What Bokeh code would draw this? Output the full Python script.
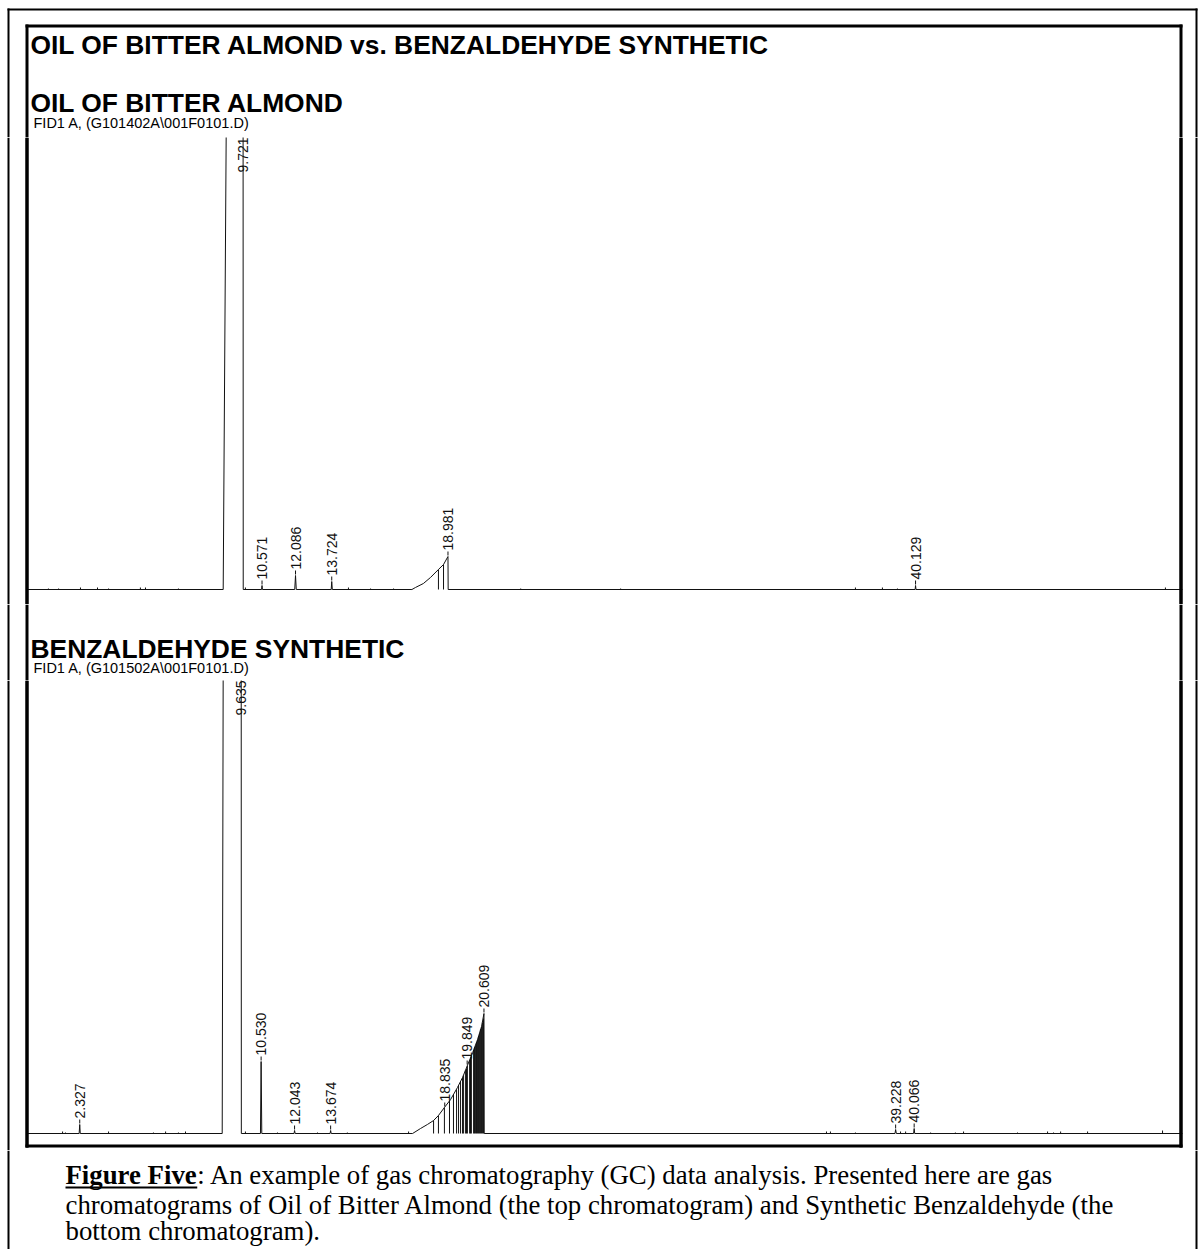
import numpy as np
from bokeh.plotting import figure
from bokeh.layouts import column
from bokeh.models import Range1d
from bokeh.core.properties import value
from bokeh.embed import file_html
from bokeh.resources import INLINE

# ---------------- data ----------------
main_title = "OIL OF BITTER ALMOND vs. BENZALDEHYDE SYNTHETIC"
panel_titles = ["OIL OF BITTER ALMOND", "BENZALDEHYDE SYNTHETIC"]
signal_names = ["FID1 A,  (G101402A\\001F0101.D)", "FID1 A,  (G101502A\\001F0101.D)"]

# top chromatogram (Oil of Bitter Almond): retention time (min) / signal (arbitrary units)
top_trace_t = [-0.1, 8.815, 8.955, 9.35, 9.715, 9.721, 10.55, 10.571, 10.59, 12.05, 12.086, 12.12,
               13.70, 13.724, 13.75, 17.35, 17.51, 17.87, 18.19, 18.55, 18.78, 18.981, 18.99,
               40.11, 40.129, 40.15, 52.2]
top_trace_s = [0, 0, 470, 3000, 470, 0, 0, 4, 0, 0, 14, 0,
               0, 8, 0, 0, 2, 6, 12, 20, 25, 33, 0,
               0, 4, 0, 0]
top_blip_t = [0.91, 1.37, 2.36, 3.13, 3.63, 5.07, 5.30, 6.79, 9.82, 14.48, 15.48, 16.52,
              22.27, 26.79, 37.41, 38.63, 39.31, 51.43]
top_blip_h = [1, 1, 2, 2, 1, 2, 2, 1, 2, 2, 1, 1, 1, 1, 2, 2, 1, 2]
top_drop_t = [18.55, 18.78]
top_drop_h = [20, 25]
top_peak_rt = [9.721, 10.571, 12.086, 13.724, 18.981, 40.129]
top_peak_h = [3000, 4, 14, 8, 33, 4]

# bottom chromatogram (Benzaldehyde synthetic)
bot_trace_t = [-0.1, 2.30, 2.327, 2.35, 8.77, 8.815, 9.25, 9.63, 9.635, 10.50, 10.530, 10.56,
               12.02, 12.043, 12.07, 13.65, 13.674, 13.70, 17.38, 17.74, 18.05, 18.33, 18.55,
               18.82, 19.10, 19.41, 19.64, 19.86, 20.10, 20.32, 20.50, 20.609, 20.62,
               39.20, 39.228, 39.26, 40.04, 40.066, 40.09, 52.2]
bot_trace_s = [0, 0, 9, 0, 0, 470, 3000, 470, 0, 0, 72, 0,
               0, 3, 0, 0, 3, 0, 0, 5, 9, 13, 18,
               26, 34, 46, 56, 68, 81, 94, 107, 120, 0,
               0, 4, 0, 0, 5, 0, 0]
bot_blip_t = [1.55, 1.68, 3.63, 5.66, 6.21, 6.79, 7.11, 9.82, 11.27, 13.08, 14.43, 17.20,
              36.10, 36.28, 37.41, 39.45, 39.68, 40.81, 41.93, 42.30, 44.74, 46.10, 46.37,
              46.69, 47.91, 51.30]
bot_blip_h = [2, 1, 2, 1, 2, 1, 2, 2, 1, 1, 1, 2, 2, 2, 1, 2, 2, 1, 1, 2, 1, 2, 1, 2, 2, 3]
bot_drop_t = [18.33, 18.55, 18.82, 19.05, 19.23, 19.37, 19.46, 19.55, 19.64, 19.68, 19.77,
              19.82, 19.86, 19.96, 20.00, 20.04, 20.14, 20.18, 20.23, 20.27, 20.32, 20.36,
              20.41, 20.45, 20.50, 20.54, 20.59]
bot_drop_h = [13, 18, 26, 33, 39, 44, 48, 52, 56, 58, 63, 65, 68, 73, 76, 78, 83, 86, 88, 91,
              94, 97, 100, 104, 107, 111, 115]
bot_peak_rt = [2.327, 9.635, 10.530, 12.043, 13.674, 18.835, 19.849, 20.609, 39.228, 40.066]
bot_peak_h = [9, 3000, 72, 3, 3, 26, 68, 120, 4, 5]

caption_bold = "Figure Five"
caption_lines = [":  An example of gas chromatography (GC) data analysis.  Presented here are gas",
                 "chromatograms of Oil of Bitter Almond (the top chromatogram) and Synthetic Benzaldehyde (the",
                 "bottom chromatogram)."]

# ---------------- layout / style ----------------
PAGE_W = 1198
X0 = 27.8        # pixel of t = 0
PXM = 22.11      # pixels per minute
SANS = value("Liberation Sans")
SERIF = value("Liberation Serif")
INK = "#111111"
OUT_L, OUT_R, OUT_T = (7, 9), (1195, 1197), (8, 10)
IN_L, IN_R, IN_T, IN_B = (25, 28), (1179, 1182), (24, 27), (1144, 1147)


def strip(y_top, y_bot, inner=True, outer_from=None, inner_from=None):
    p = figure(width=PAGE_W, height=int(y_bot - y_top),
               x_range=Range1d(0, PAGE_W), y_range=Range1d(y_bot, y_top),
               output_backend="svg", toolbar_location=None, min_border=0,
               x_axis_location=None, y_axis_location=None, outline_line_color=None,
               background_fill_color="white", border_fill_color="white")
    p.xgrid.visible = False
    p.ygrid.visible = False
    o_top = y_top if outer_from is None else outer_from
    p.quad(left=[OUT_L[0], OUT_R[0]], right=[OUT_L[1], OUT_R[1]],
           top=[o_top] * 2, bottom=[y_bot] * 2, fill_color="black", line_color=None)
    if inner:
        i_top = y_top if inner_from is None else inner_from
        i_bot = min(y_bot, IN_B[1])
        p.quad(left=[IN_L[0], IN_R[0]], right=[IN_L[1], IN_R[1]],
               top=[i_top] * 2, bottom=[i_bot] * 2, fill_color="black", line_color=None)
    return p


def chrom(y_top, y_bot, base_y, tt, ts, bt, bh, dt, dh, prt, ph):
    p = strip(y_top, y_bot)
    p.extra_x_ranges = {"rt": Range1d((0 - X0) / PXM, (PAGE_W - X0) / PXM)}
    sig_top = base_y - y_top
    p.extra_y_ranges = {"sig": Range1d(base_y - y_bot, sig_top)}
    kw = dict(x_range_name="rt", y_range_name="sig")
    p.line(tt, ts, line_color=INK, line_width=1, **kw)
    p.segment(x0=bt, y0=[0] * len(bt), x1=bt, y1=bh, line_color=INK, line_width=1, **kw)
    p.segment(x0=dt, y0=[0] * len(dt), x1=dt, y1=dh, line_color=INK, line_width=1, **kw)
    labels = [f"{r:.3f}" for r in prt]
    on_x = [r for r, h in zip(prt, ph) if h < sig_top]
    on_h = [h for h in ph if h < sig_top]
    on_l = [l for l, h in zip(labels, ph) if h < sig_top]
    off_x = [r for r, h in zip(prt, ph) if h >= sig_top]
    off_l = [l for l, h in zip(labels, ph) if h >= sig_top]
    p.segment(x0=on_x, y0=[h + 1 for h in on_h], x1=on_x, y1=[h + 5 for h in on_h],
              line_color=INK, line_width=1, **kw)
    p.text(x=on_x, y=[h + 6 for h in on_h], text=on_l, angle=np.pi / 2,
           text_align="left", text_baseline="middle", text_font=SANS,
           text_font_size="14px", text_color=INK, **kw)
    p.text(x=off_x, y=[sig_top] * len(off_x), text=off_l, angle=np.pi / 2,
           text_align="right", text_baseline="middle", text_font=SANS,
           text_font_size="14px", text_color=INK, **kw)
    # inner box sides on top of trace ends
    p.quad(left=[IN_L[0], IN_R[0]], right=[IN_L[1], IN_R[1]], top=[y_top] * 2,
           bottom=[min(y_bot, IN_B[1])] * 2, fill_color="black", line_color=None)
    return p


def htext(p, x, y, txt, font, size, bold=False):
    p.text(x=x, y=y, text=txt, text_font=font, text_font_size=size,
           text_font_style="bold" if bold else "normal", text_baseline="middle",
           text_align="left", text_color="black")


# strip 1: header
s1 = strip(0, 137, outer_from=OUT_T[0], inner_from=IN_T[0])
s1.quad(left=[OUT_L[0], IN_L[0]], right=[OUT_R[1], IN_R[1]], top=[OUT_T[0], IN_T[0]],
        bottom=[OUT_T[1], IN_T[1]], fill_color="black", line_color=None)
htext(s1, [30, 30], [44.5, 102.5], [main_title, panel_titles[0]], SANS, "26.4px", bold=True)
htext(s1, [33], [122.5], [signal_names[0]], SANS, "14.5px")

# strip 2: top chromatogram
s2 = chrom(137, 604, 589, top_trace_t, top_trace_s, top_blip_t, top_blip_h,
           top_drop_t, top_drop_h, top_peak_rt, top_peak_h)

# strip 3: second header
s3 = strip(604, 680)
htext(s3, [30], [648.5], [panel_titles[1]], SANS, "26.4px", bold=True)
htext(s3, [33], [667.5], [signal_names[1]], SANS, "14.5px")

# strip 4: bottom chromatogram
s4 = chrom(680, 1150, 1133, bot_trace_t, bot_trace_s, bot_blip_t, bot_blip_h,
           bot_drop_t, bot_drop_h, bot_peak_rt, bot_peak_h)
s4.quad(left=[IN_L[0]], right=[IN_R[1]], top=[IN_B[0]], bottom=[IN_B[1]],
        fill_color="black", line_color=None)

# strip 5: caption
s5 = strip(1150, 1249, inner=False)
CAP = 26.8
bold_w = CAP * 4.916
htext(s5, [65], [1174.5], [caption_bold], SERIF, f"{CAP}px", bold=True)
s5.quad(left=[65], right=[65 + bold_w], top=[1186], bottom=[1188], fill_color="black", line_color=None)
htext(s5, [65 + bold_w, 65, 65], [1174.5, 1204.5, 1230.5], caption_lines, SERIF, f"{CAP}px")

layout = column(s1, s2, s3, s4, s5, spacing=0)
open("out.html", "w").write(file_html(layout, INLINE))
